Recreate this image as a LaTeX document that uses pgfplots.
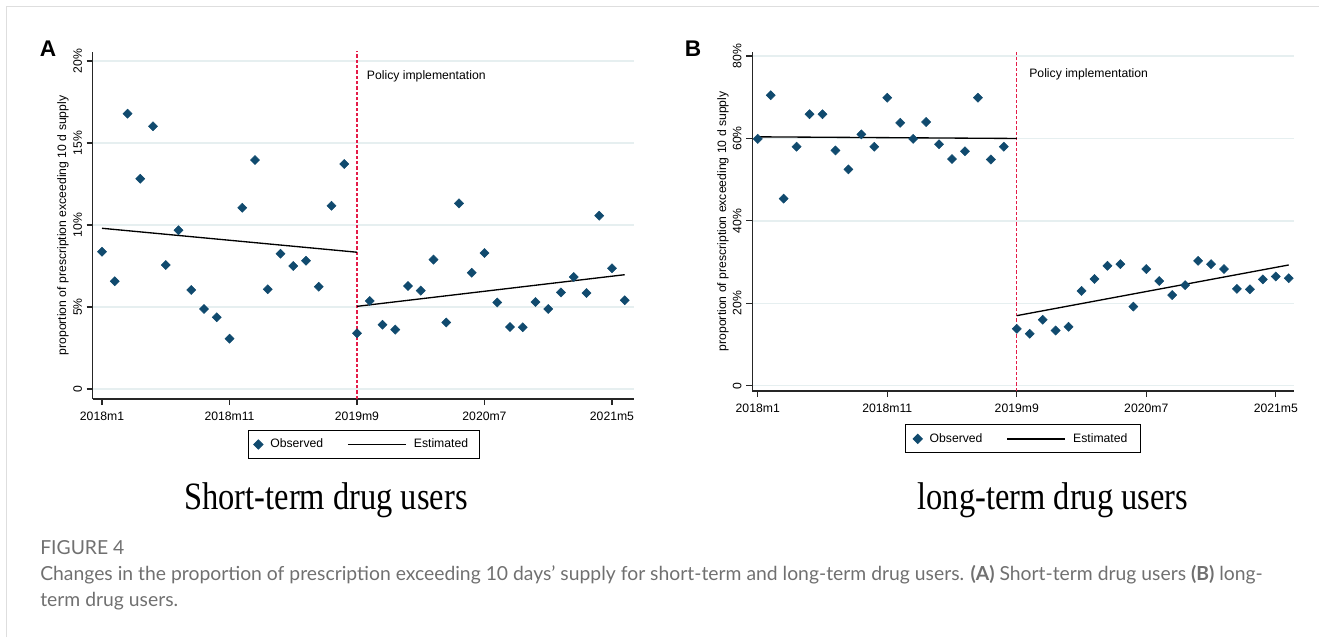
\documentclass[border=0pt]{standalone}
\usepackage{fontspec}
\setmainfont{Liberation Sans}
\newfontfamily\subfont{Liberation Serif}
\newfontfamily\capfont{Lato}
\usepackage{pgfplots}
\pgfplotsset{compat=1.18}

\definecolor{obs}{RGB}{16,74,110}
\definecolor{pol}{RGB}{228,28,72}
\definecolor{gridc}{RGB}{230,239,240}
\definecolor{capgrey}{RGB}{112,112,112}
\definecolor{boxgrey}{RGB}{222,222,222}

\newcommand{\lab}{\fontsize{9.15bp}{11bp}\selectfont}

\pgfplotsset{
  panel/.style={
    scale only axis,
    clip=false,
    axis x line*=bottom, axis y line*=left,
    axis line style={black!85, line width=0.9bp},
    tick style={black!85, line width=0.9bp},
    tick align=outside,
    major tick length=4.5bp,
    xtick={0,10,20,30,40},
    xticklabels={2018m1,2018m11,2019m9,2020m7,2021m5},
    ymajorgrids,
    grid style={gridc, line width=1.1bp},
    ticklabel style={font=\lab},
    xticklabel style={yshift=-2bp},
    yticklabel style={rotate=90, anchor=south},
    label style={font=\lab},
    ylabel={proportion of prescription exceeding 10 d supply},
    /pgf/number format/assume math mode=true,
    legend columns=2,
    legend style={anchor=center, draw=black, line width=0.75bp,
      font=\lab, inner xsep=3.75bp, inner ysep=6.5bp,
      nodes={inner sep=0pt},
      /tikz/every odd column/.append style={column sep=5.5bp},
      /tikz/every even column/.append style={column sep=18bp}},
  },
  obsplot/.style={only marks, mark=square*, mark size=2.4bp,
    mark options={rotate=45, fill=obs, draw=obs},
    legend image code/.code={\draw[##1] plot coordinates {(0bp,0bp)};}},
  estplot/.style={black, line width=1bp,
    legend image code/.code={\draw[##1] (0bp,0bp) -- (43.5bp,0bp);}},
  polline/.style={pol, line width=0.9bp, dash pattern=on 2.5bp off 1.5bp, forget plot},
}

\pgfplotstableread{
t v
0 8.37
1 6.57
2 16.79
3 12.82
4 16.02
5 7.56
6 9.68
7 6.04
8 4.88
9 4.37
10 3.07
11 11.05
12 13.96
13 6.08
14 8.25
15 7.50
16 7.82
17 6.24
18 11.17
19 13.72
20 3.40
21 5.37
22 3.92
23 3.62
24 6.28
25 6.00
26 7.89
27 4.06
28 11.32
29 7.09
30 8.29
31 5.28
32 3.78
33 3.76
34 5.30
35 4.88
36 5.89
37 6.83
38 5.85
39 10.57
40 7.36
41 5.41
}\shortterm

\pgfplotstableread{
t v
0 59.9
1 70.5
2 45.4
3 58.0
4 65.9
5 65.9
6 57.1
7 52.5
8 61.0
9 58.0
10 69.9
11 63.8
12 59.9
13 64.0
14 58.6
15 55.0
16 56.9
17 69.9
18 54.9
19 58.0
20 13.8
21 12.6
22 16.0
23 13.4
24 14.3
25 23.0
26 25.9
27 29.1
28 29.5
29 19.2
30 28.3
31 25.4
32 22.0
33 24.4
34 30.3
35 29.5
36 28.3
37 23.5
38 23.4
39 25.8
40 26.5
41 26.1
}\longterm

\begin{document}
\begin{tikzpicture}[x=0.75bp, y=0.75bp]
\useasboundingbox (0,0) rectangle (1319,637);
\draw[boxgrey, line width=0.75bp] (6,0) -- (6,630) -- (1319,630);
\coordinate (oA) at (92.7,238);
\coordinate (oB) at (752.3,246);

% panel A
\begin{axis}[panel,
  at={(oA)}, anchor=south west,
  width=406bp, height=260.25bp,
  xmin=-0.73, xmax=41.73, ymin=-0.61, ymax=20.55,
  ytick={0,5,10,15,20},
  yticklabels={0,5\%,10\%,15\%,20\%},
  ylabel style={at={(axis description cs:-0.0549,0.5)}, anchor=center},
  legend style={at={(axis description cs:0.5012,-0.1311)}},
  legend entries={Observed,Estimated\hspace*{4.5bp}},
]
\addplot[polline] coordinates {(20,-0.61) (20,20.63)};
\addplot[obsplot] table[x=t, y=v] {\shortterm};
\addplot[estplot] coordinates {(0,9.80) (20,8.34)};
\addplot[estplot, forget plot] coordinates {(20,5.04) (41,6.97)};
\node[anchor=west, inner sep=0pt, font=\lab] at (axis cs:20.76,19.04) {Policy implementation};
\end{axis}

% panel B
\begin{axis}[panel,
  at={(oB)}, anchor=south west,
  width=406.3bp, height=254.5bp,
  xmin=-0.42, xmax=41.41, ymin=-1.29, ymax=81.07,
  ytick={0,20,40,60,80},
  yticklabels={0,20\%,40\%,60\%,80\%},
  ylabel style={at={(axis description cs:-0.0541,0.5)}, anchor=center},
  legend style={at={(axis description cs:0.5003,-0.141)}, inner xsep=5.5bp},
  legend entries={Observed,Estimated\hspace*{4.5bp}},
]
\addplot[polline] coordinates {(20,-1.29) (20,81.4)};
\addplot[obsplot] table[x=t, y=v] {\longterm};
\addplot[estplot] coordinates {(0,60.4) (20,60.0)};
\addplot[estplot, forget plot] coordinates {(20,17.0) (41,29.3)};
\node[anchor=west, inner sep=0pt, font=\lab] at (axis cs:20.95,75.58) {Policy implementation};
\end{axis}

\node[font=\fontsize{17bp}{20bp}\selectfont\bfseries] at (48,588) {A};
\node[font=\fontsize{17bp}{20bp}\selectfont\bfseries] at (693,588) {B};

\node[font=\fontsize{29bp}{34bp}\subfont, xscale=0.84] at (326,137) {Short-term drug users};
\node[font=\fontsize{29bp}{34bp}\subfont, xscale=0.84] at (1053,137) {long-term drug users};

\node[anchor=west, inner sep=0pt, text=capgrey, font=\fontsize{14.5bp}{17bp}\capfont] at (40,89) {FIGURE 4};
\node[anchor=west, inner sep=0pt, text=capgrey, font=\fontsize{14.5bp}{17bp}\capfont] at (40,62)
  {Changes in the proportion of prescription exceeding 10 days’ supply for short-term and long-term drug users. \textbf{(A)} Short-term drug users \textbf{(B)} long-};
\node[anchor=west, inner sep=0pt, text=capgrey, font=\fontsize{14.5bp}{17bp}\capfont] at (40,36) {term drug users.};
\end{tikzpicture}
\end{document}
